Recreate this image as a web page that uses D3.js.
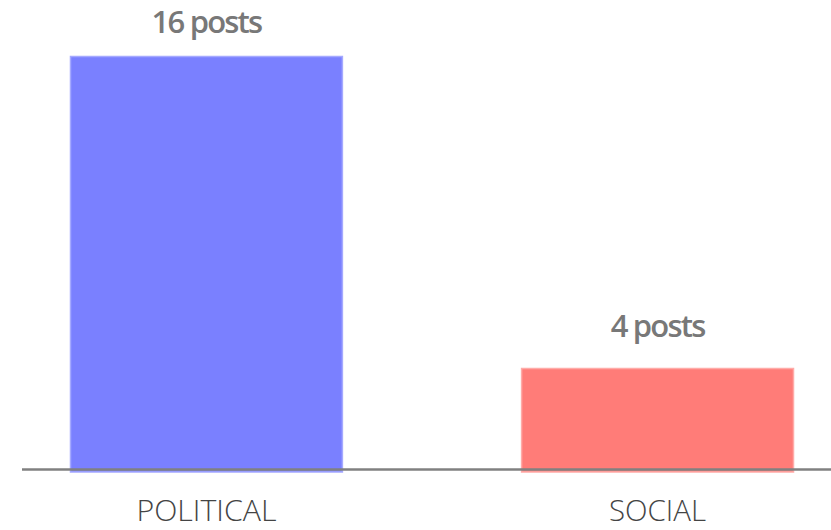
<!DOCTYPE html>
<html><head><meta charset="utf-8">
<script src="https://cdn.jsdelivr.net/npm/d3@7"></script>
<style>body{margin:0;background:#fff}svg{display:block}</style>
</head><body>
<svg id="c" width="831" height="530"></svg>
<script>
const categories = ["POLITICAL", "SOCIAL"];
const values = [16, 4];
const valueLabels = ["16 posts", "4 posts"];
const fills = ["#7a80ff", "#ff7c78"];
const strokes = ["#a5a9ff", "#ffaba8"];

const svg = d3.select("#c");
const x = d3.scaleBand().domain(categories).range([22, 842]).paddingInner(0.395).paddingOuter(0.1064);
const y = d3.scaleLinear().domain([0, 16]).range([472, 56]);

svg.selectAll("rect.bar").data(values).enter().append("rect")
  .attr("class", "bar")
  .attr("x", (d, i) => x(categories[i]) + 0.5)
  .attr("y", d => y(d) + 0.5)
  .attr("width", x.bandwidth() - 1)
  .attr("height", d => y(0) - y(d) - 0.5)
  .attr("fill", (d, i) => fills[i])
  .attr("stroke", (d, i) => strokes[i])
  .attr("stroke-width", 1.5);

svg.append("line").attr("x1", 22).attr("x2", 842).attr("y1", 469.5).attr("y2", 469.5)
  .attr("stroke", "#808080").attr("stroke-width", 2.5);

svg.selectAll("text.val").data(values).enter().append("text")
  .attr("class", "val")
  .attr("x", (d, i) => x(categories[i]) + x.bandwidth() / 2)
  .attr("y", d => Math.max(y(d) - 31, 33))
  .attr("text-anchor", "middle")
  .attr("font-family", "'Open Sans', sans-serif")
  .attr("font-weight", 600)
  .attr("font-size", 31)
  .attr("letter-spacing", -1.8)
  .attr("fill", "#787878")
  .text((d, i) => valueLabels[i]);

const catWidths = [140, 97];
svg.selectAll("text.cat").data(categories).enter().append("text")
  .attr("class", "cat")
  .attr("x", d => x(d) + x.bandwidth() / 2)
  .attr("y", 521)
  .attr("text-anchor", "middle")
  .attr("font-family", "'Open Sans', sans-serif")
  .attr("font-weight", 300)
  .attr("font-size", 29)
  .attr("textLength", (d, i) => catWidths[i])
  .attr("lengthAdjust", "spacingAndGlyphs")
  .attr("fill", "#444")
  .text(d => d);
</script>
</body></html>
